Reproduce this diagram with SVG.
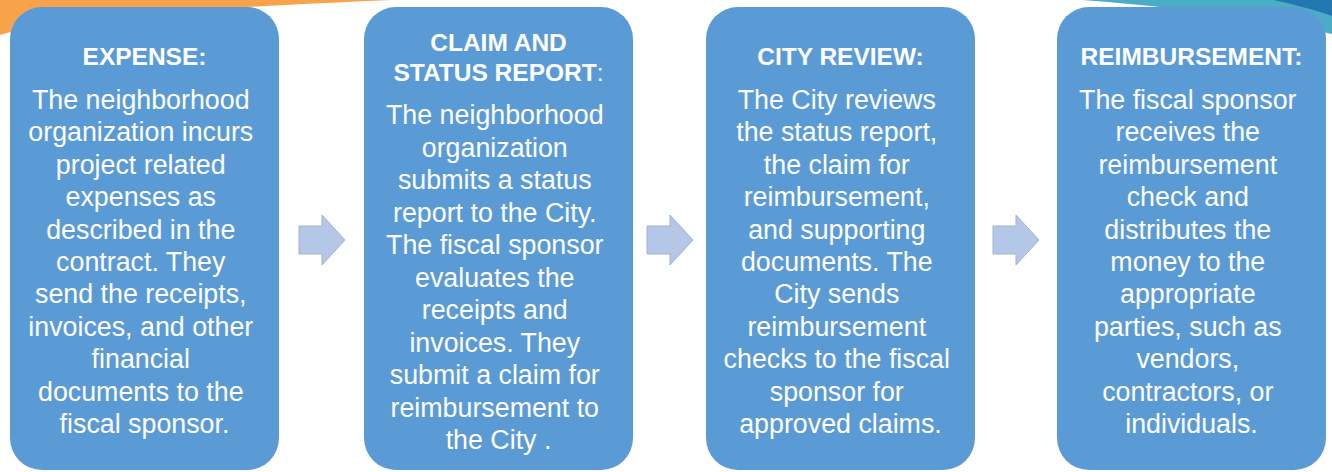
<svg xmlns="http://www.w3.org/2000/svg" width="1332" height="472" viewBox="0 0 1332 472">
<style>
.box{fill:#5B9BD5;}
.hd{font-family:"Liberation Sans",Arial,sans-serif;font-weight:bold;font-size:24.5px;fill:#FFFFFF;text-anchor:middle;}
.bd{font-family:"Liberation Sans",Arial,sans-serif;font-size:26.8px;fill:#FFFFFF;text-anchor:middle;}
.arr{fill:#B4C7E7;stroke:#A3B4CC;stroke-width:1;}
</style>
<rect width="1332" height="472" fill="#FFFFFF"/>
<g id="decoration">
<path d="M0,0 L392,0 C200,8 60,18 0,35 Z" fill="#F8A34C"/>
<path d="M1082,0 L1332,0 L1332,34 C1262,18 1165,6 1082,0 Z" fill="#4BACC6"/>
<path d="M1274,0 L1332,0 L1332,16 C1312,9 1292,4 1274,0 Z" fill="#2277B0"/>
</g>
<g id="connectors">
<path class="arr" d="M299,226 L322,226 L322,215 L345,240 L322,265 L322,254 L299,254 Z"/>
<path class="arr" d="M647,226 L670,226 L670,215 L693,240 L670,265 L670,254 L647,254 Z"/>
<path class="arr" d="M993,226 L1016,226 L1016,215 L1039,240 L1016,265 L1016,254 L993,254 Z"/>
</g>
<g id="node-expense">
<rect class="box" x="10" y="7" width="269" height="463" rx="32" ry="32"/>
<text class="hd" x="144.5" y="65">EXPENSE:</text>
<text class="bd" x="144.5">
<tspan x="144.5" y="109">The neighborhood</tspan>
<tspan x="144.5" y="141.4">organization incurs</tspan>
<tspan x="144.5" y="173.8">project related</tspan>
<tspan x="144.5" y="206.2">expenses as</tspan>
<tspan x="144.5" y="238.6">described in the</tspan>
<tspan x="144.5" y="271">contract. They</tspan>
<tspan x="144.5" y="303.4">send the receipts,</tspan>
<tspan x="144.5" y="335.8">invoices, and other</tspan>
<tspan x="144.5" y="368.2">financial</tspan>
<tspan x="144.5" y="400.6">documents to the</tspan>
<tspan x="144.5" y="433">fiscal sponsor.</tspan>
</text>
</g>
<g id="node-claim">
<rect class="box" x="364" y="7" width="269" height="463" rx="32" ry="32"/>
<text class="hd" x="498.5" y="51">CLAIM AND</text>
<text class="hd" x="498.5" y="81">STATUS REPORT<tspan font-weight="normal">:</tspan></text>
<text class="bd" x="498.5">
<tspan x="498.5" y="124">The neighborhood</tspan>
<tspan x="498.5" y="156.5">organization</tspan>
<tspan x="498.5" y="189">submits a status</tspan>
<tspan x="498.5" y="221.5">report to the City.</tspan>
<tspan x="498.5" y="254">The fiscal sponsor</tspan>
<tspan x="498.5" y="286.5">evaluates the</tspan>
<tspan x="498.5" y="319">receipts and</tspan>
<tspan x="498.5" y="351.5">invoices. They</tspan>
<tspan x="498.5" y="384">submit a claim for</tspan>
<tspan x="498.5" y="416.5">reimbursement to</tspan>
<tspan x="498.5" y="449">the City .</tspan>
</text>
</g>
<g id="node-review">
<rect class="box" x="706" y="7" width="269" height="463" rx="32" ry="32"/>
<text class="hd" x="840.5" y="65">CITY REVIEW:</text>
<text class="bd" x="840.5">
<tspan x="840.5" y="109">The City reviews</tspan>
<tspan x="840.5" y="141.4">the status report,</tspan>
<tspan x="840.5" y="173.8">the claim for</tspan>
<tspan x="840.5" y="206.2">reimbursement,</tspan>
<tspan x="840.5" y="238.6">and supporting</tspan>
<tspan x="840.5" y="271">documents. The</tspan>
<tspan x="840.5" y="303.4">City sends</tspan>
<tspan x="840.5" y="335.8">reimbursement</tspan>
<tspan x="840.5" y="368.2">checks to the fiscal</tspan>
<tspan x="840.5" y="400.6">sponsor for</tspan>
<tspan x="840.5" y="433">approved claims.</tspan>
</text>
</g>
<g id="node-reimbursement">
<rect class="box" x="1057" y="7" width="269" height="463" rx="32" ry="32"/>
<text class="hd" x="1191.5" y="65">REIMBURSEMENT:</text>
<text class="bd" x="1191.5">
<tspan x="1191.5" y="109">The fiscal sponsor</tspan>
<tspan x="1191.5" y="141.4">receives the</tspan>
<tspan x="1191.5" y="173.8">reimbursement</tspan>
<tspan x="1191.5" y="206.2">check and</tspan>
<tspan x="1191.5" y="238.6">distributes the</tspan>
<tspan x="1191.5" y="271">money to the</tspan>
<tspan x="1191.5" y="303.4">appropriate</tspan>
<tspan x="1191.5" y="335.8">parties, such as</tspan>
<tspan x="1191.5" y="368.2">vendors,</tspan>
<tspan x="1191.5" y="400.6">contractors, or</tspan>
<tspan x="1191.5" y="433">individuals.</tspan>
</text>
</g>
</svg>
